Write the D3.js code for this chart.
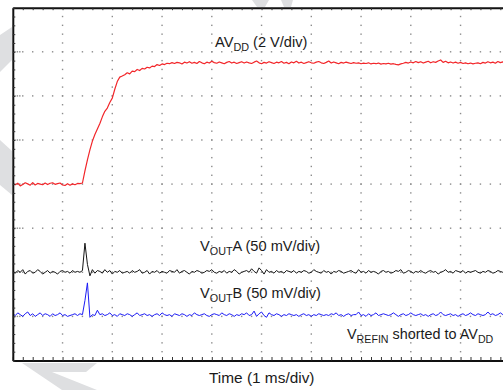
<!DOCTYPE html>
<html><head><meta charset="utf-8">
<script src="https://cdn.jsdelivr.net/npm/d3@7"></script>
<style>html,body{margin:0;padding:0;background:#fff;}svg{display:block;}text{font-family:"Liberation Sans",Arial,Helvetica,sans-serif;fill:#1a1a1a;}</style>
</head><body><svg id="c" width="503" height="390"></svg>
<script>
// ---- data ----
const sampleStepMs = 0.05;              // sample interval of the traces (ms)
const timeDivs = [0,1,2,3,4,5,6,7,8,9,10]; // ms, 1 ms/div
const vertDivs = [0,1,2,3,4,5,6,7,8];
// AVDD (V), 2 V/div, zero at division 4
const avdd = [0.02,-0.03,0.04,-0.08,-0.02,0.06,0.01,-0.05,0.07,-0.04,0.03,0.0,-0.03,0.05,-0.02,0.04,0.06,-0.01,0.02,0.05,-0.04,-0.06,0.02,-0.05,0.01,-0.03,0.03,0.02,
 0.05,0.6,1.1,1.55,1.95,2.25,2.5,2.75,3.05,3.3,3.45,3.7,3.9,4.3,4.65,4.85,4.9,4.96,5.05,5.0,5.12,5.1,5.2,5.15,5.25,5.22,5.3,5.27,5.35,5.33,5.42,5.38,5.45,5.42,5.48,
 5.46,5.51,5.47,5.52,5.5,5.45,5.53,5.49,5.55,5.48,
 5.52,5.47,5.56,5.5,5.46,5.53,5.49,5.57,5.51,5.48,
 5.54,5.5,5.46,5.52,5.56,5.49,5.53,5.47,5.51,5.55,
 5.49,5.54,5.5,5.47,5.53,5.58,5.5,5.46,5.52,5.49,
 5.55,5.51,5.47,5.53,5.5,5.56,5.48,5.52,5.46,5.54,
 5.5,5.57,5.49,5.53,5.47,5.51,5.55,5.5,5.48,5.53,
 5.56,5.5,5.47,5.52,5.58,5.49,5.54,5.5,5.46,5.52,
 5.49,5.53,5.5,5.47,5.51,5.48,5.5,5.46,5.49,5.47,
 5.5,5.45,5.48,5.46,5.49,5.44,5.47,5.45,5.48,5.44,
 5.46,5.43,5.41,5.45,5.48,5.52,5.49,5.54,5.5,5.56,
 5.51,5.55,5.49,5.53,5.57,5.5,5.55,5.52,5.58,5.63,
 5.52,5.57,5.5,5.54,5.49,5.53,5.48,5.52,5.47,5.5,
 5.46,5.49,5.45,5.48,5.5,5.46,5.52,5.49,5.55,5.5,
 5.53,5.48,5.56,5.51,5.54,5.5,5.57,5.52];
// VOUTA (mV), 50 mV/div, zero at division 2
const voutA = [1,-1,2,0,3,-2,1,2,-1,0,3,1,-2,0,2,-1,1,0,-2,1,2,0,1,-1,2,0,1,0,
 2,33,9,-4,3,-1,2,
 1,-1,3,0,2,-2,1,0,2,-1,
 0,1,-1,2,0,1,3,-1,0,2,
 -2,1,0,2,-1,1,0,-1,2,1,
 0,3,-1,1,2,0,-2,1,0,2,
 1,-1,0,2,1,3,0,-1,1,0,
 2,-1,1,0,3,1,-2,0,1,2,
 0,4,1,-1,5,2,-2,3,0,1,
 -1,2,0,1,-1,2,1,0,2,-1,
 1,0,2,1,-1,0,3,1,0,-1,
 2,0,1,-2,1,0,2,1,-1,0,
 1,2,0,-1,3,0,1,-1,2,0,
 1,0,-2,1,2,0,1,-1,0,2,
 1,3,-1,0,2,1,-1,1,0,2,
 0,-1,1,2,0,1,-2,0,1,3,
 0,1,-1,2,1,0,2,-1,1,0,
 1,2,0,-1,1,0,2,1,-1,0,
 2,1,0,1,-1,2];
// VOUTB (mV), 50 mV/div, zero at division 1
const voutB = [3,1,4,2,0,3,5,1,3,0,2,4,1,3,2,0,3,1,2,4,1,2,0,1,2,3,1,3,
 2,18,38,-1,2,1,7,2,
 3,1,2,4,1,2,0,3,2,1,
 3,2,0,2,4,1,2,3,1,2,
 0,2,3,1,4,2,1,2,0,3,
 2,1,3,2,0,2,1,4,2,1,
 2,3,1,0,2,3,2,1,4,2,
 1,3,2,0,2,1,3,2,4,1,
 2,6,0,3,5,1,-1,4,2,1,
 3,2,0,2,1,3,2,1,2,0,
 2,3,1,2,0,2,1,3,2,1,
 2,1,3,2,4,1,2,0,2,3,
 1,2,2,5,1,2,0,3,1,2,
 4,1,2,3,2,1,2,4,2,0,
 2,3,1,2,4,2,1,2,3,1,
 2,0,2,3,1,2,5,2,1,2,
 3,1,2,0,2,3,1,2,4,2,
 1,3,2,1,2,5,2,3,1,2,
 4,2,3,5,2];
const series = [
  {name:"AVDD", values:avdd, zeroDiv:4, perDiv:2, color:"#f2262a", width:1.2},
  {name:"VOUTA", values:voutA, zeroDiv:2, perDiv:50, color:"#141414", width:1},
  {name:"VOUTB", values:voutB, zeroDiv:1, perDiv:50, color:"#1b1bf5", width:1}
];

// ---- layout ----
const svg = d3.select("#c");
const x = d3.scaleLinear().domain([0,10]).range([12.8, 510.3]);
const y = d3.scaleLinear().domain([0,8]).range([360.5, 7.7]);

// watermark fragments (behind plot)
const wm = svg.append("g").attr("fill","#dedfe1");
[
 [[0,35],[12,27],[12,60],[0,72]],
 [[0,140],[12,151],[12,195],[0,185]],
 [[252,0],[269,0],[265,7],[257,7]],
 [[281,0],[293,0],[291,7],[284,7]],
 [[22,363],[97,363],[86,372],[52,372],[97,390],[62,390]]
].forEach(p=>wm.append("polygon").attr("points",p.map(d=>d.join(",")).join(" ")));

// plot background
svg.append("rect").attr("x",x(0)).attr("y",y(8)).attr("width",x(10)-x(0)).attr("height",y(0)-y(8)).attr("fill","#fff");

// dotted grid
const minorX = d3.range(1,50).map(i=>i*0.2);
const minorY = d3.range(1,40).map(i=>i*0.2);
const grid = svg.append("g").attr("fill","#8c8c8c");
timeDivs.slice(1,-1).forEach(t=>{
  minorY.forEach(v=>grid.append("rect").attr("x",x(t)-0.7).attr("y",y(v)-0.7).attr("width",1.4).attr("height",1.4));
});
vertDivs.slice(1,-1).forEach(v=>{
  minorX.forEach(t=>grid.append("rect").attr("x",x(t)-0.7).attr("y",y(v)-0.7).attr("width",1.4).attr("height",1.4));
  [2.2,4.6,7].forEach(dx=>grid.append("rect").attr("x",x(0)+dx-0.7).attr("y",y(v)-0.7).attr("width",1.4).attr("height",1.4));
});

// traces
const clip = svg.append("clipPath").attr("id","pc").append("rect")
  .attr("x",x(0)+1).attr("y",y(8)+1).attr("width",x(10)-x(0)-2).attr("height",y(0)-y(8)-2);
series.forEach(s=>{
  const line = d3.line()
    .x((d,i)=>x(i*sampleStepMs))
    .y(d=>y(s.zeroDiv + d/s.perDiv));
  svg.append("path").datum(s.values).attr("d",line).attr("fill","none")
    .attr("stroke",s.color).attr("stroke-width",s.width).attr("stroke-linejoin","round")
    .attr("clip-path","url(#pc)");
});

// frame axes (ticks only)
const tickT = d3.range(0,51).map(i=>i*0.2);
const tickV = d3.range(0,41).map(i=>i*0.2);
function styleAxis(g){
  g.selectAll("text").remove();
  g.select(".domain").attr("stroke","#111").attr("stroke-width",2);
  g.selectAll(".tick line").attr("stroke","#333").attr("stroke-width",1);
}
svg.append("g").attr("transform",`translate(0,${y(8)})`)
  .call(d3.axisTop(x).tickValues(tickT).tickSizeInner(-2.5).tickSizeOuter(0)).call(styleAxis);
svg.append("g").attr("transform",`translate(0,${y(0)})`)
  .call(d3.axisBottom(x).tickValues(tickT).tickSizeInner(-3.5).tickSizeOuter(0)).call(styleAxis);
svg.append("g").attr("transform",`translate(${x(0)},0)`)
  .call(d3.axisLeft(y).tickValues(tickV).tickSizeInner(-2.5).tickSizeOuter(0)).call(styleAxis);

// labels
function label(px,py,parts,size){
  const t = svg.append("text").attr("x",px).attr("y",py).attr("font-size",size);
  let shift = 0;
  parts.forEach(([txt,sub])=>{
    const dy = sub ? 3.5 - shift : -shift;
    shift = sub ? 3.5 : 0;
    t.append("tspan").attr("dy",dy).attr("font-size",sub?size*0.74:size).text(txt);
  });
}
label(215,47,[["AV"],["DD",1],[" (2 V/div)"]],14.6);
label(200,251,[["V"],["OUT",1],["A (50 mV/div)"]],14.6);
label(200,298,[["V"],["OUT",1],["B (50 mV/div)"]],14.6);
label(347,339,[["V"],["REFIN",1],[" shorted to AV"],["DD",1]],14.4);
label(209,383,[["Time (1 ms/div)"]],15.4);
</script></body></html>
